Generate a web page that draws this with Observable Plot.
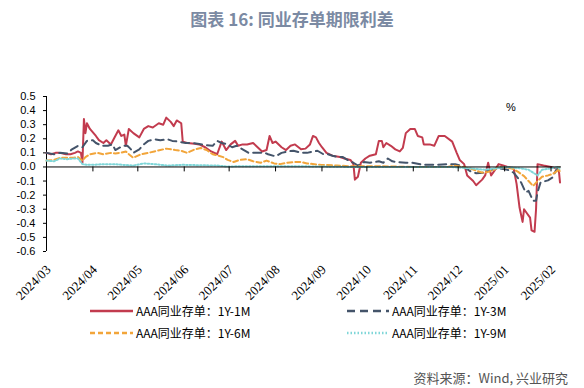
<!DOCTYPE html>
<html><head><meta charset="utf-8">
<script src="https://cdn.jsdelivr.net/npm/d3@7"></script>
<script src="https://cdn.jsdelivr.net/npm/@observablehq/plot@0.6"></script>
<style>
body{margin:0;background:#fff;}
#wrap{position:relative;width:584px;height:388px;overflow:hidden;background:#fff;}
#chart{position:absolute;left:0;top:0;}
#title{position:absolute;left:0;width:584px;top:6px;text-align:center;font-family:"Noto Sans CJK SC","Noto Sans",sans-serif;font-weight:bold;font-size:17px;color:#7b8aa3;}
#unit{position:absolute;left:506px;top:101px;font-family:"Liberation Sans",sans-serif;font-size:11px;color:#000;}
#source{position:absolute;right:16px;top:368px;font-family:"Noto Sans CJK SC",sans-serif;font-size:13px;color:#555;}
.lg{position:absolute;font-family:"Noto Sans CJK SC",sans-serif;font-size:12px;color:#000;line-height:14px;white-space:nowrap;display:flex;align-items:center;}
.lg svg{margin-right:3px;}
</style></head><body>
<div id="wrap">
  <div id="chart"></div>
  <div id="title">图表 16: 同业存单期限利差</div>
  <div id="unit">%</div>
  <div id="legend"></div>
  <div id="source">资料来源：Wind, 兴业研究</div>
</div>
<script>
const seriesNames = ["AAA同业存单：1Y-1M","AAA同业存单：1Y-3M","AAA同业存单：1Y-6M","AAA同业存单：1Y-9M"];
const seriesColors = ["#c23b4e","#44546a","#f2a53a","#7fd6d8"];
const monthLabelFormat = "%Y/%m";
const yTicks = [-0.6,-0.5,-0.4,-0.3,-0.2,-0.1,0.0,0.1,0.2,0.3,0.4,0.5];

const dates1M = ["2024-03-01","2024-03-04","2024-03-07","2024-03-10","2024-03-14","2024-03-17","2024-03-20","2024-03-22","2024-03-24","2024-03-25","2024-03-26","2024-03-27","2024-03-28","2024-03-30","2024-04-03","2024-04-05","2024-04-08","2024-04-10","2024-04-13","2024-04-15","2024-04-18","2024-04-20","2024-04-22","2024-04-23","2024-04-25","2024-04-28","2024-05-02","2024-05-05","2024-05-08","2024-05-11","2024-05-15","2024-05-18","2024-05-20","2024-05-23","2024-05-25","2024-05-27","2024-05-30","2024-05-31","2024-06-03","2024-06-08","2024-06-11","2024-06-15","2024-06-19","2024-06-23","2024-06-26","2024-06-29","2024-07-02","2024-07-05","2024-07-07","2024-07-10","2024-07-13","2024-07-17","2024-07-20","2024-07-23","2024-07-26","2024-07-28","2024-07-30","2024-08-01","2024-08-05","2024-08-08","2024-08-11","2024-08-14","2024-08-18","2024-08-21","2024-08-24","2024-08-26","2024-08-28","2024-08-30","2024-09-01","2024-09-04","2024-09-08","2024-09-13","2024-09-16","2024-09-20","2024-09-22","2024-09-23","2024-09-25","2024-09-27","2024-09-30","2024-10-03","2024-10-07","2024-10-09","2024-10-11","2024-10-12","2024-10-14","2024-10-17","2024-10-20","2024-10-23","2024-10-25","2024-10-27","2024-10-30","2024-11-02","2024-11-04","2024-11-07","2024-11-08","2024-11-12","2024-11-15","2024-11-18","2024-11-22","2024-11-27","2024-11-30","2024-12-02","2024-12-05","2024-12-07","2024-12-11","2024-12-13","2024-12-17","2024-12-19","2024-12-21","2024-12-23","2024-12-25","2024-12-28","2024-12-31","2025-01-03","2025-01-07","2025-01-09","2025-01-11","2025-01-13","2025-01-14","2025-01-16","2025-01-18","2025-01-19","2025-01-21","2025-01-22","2025-01-23","2025-01-27","2025-02-01","2025-02-04","2025-02-06","2025-02-07"];
const values1M = [0.10,0.09,0.10,0.10,0.09,0.09,0.10,0.11,0.10,0.03,0.34,0.24,0.31,0.27,0.22,0.19,0.17,0.19,0.16,0.20,0.26,0.22,0.23,0.15,0.27,0.24,0.21,0.27,0.29,0.28,0.31,0.30,0.35,0.32,0.29,0.33,0.31,0.18,0.17,0.165,0.16,0.14,0.11,0.09,0.18,0.12,0.16,0.185,0.15,0.16,0.16,0.17,0.14,0.11,0.12,0.22,0.17,0.18,0.14,0.12,0.15,0.16,0.125,0.13,0.16,0.22,0.21,0.17,0.14,0.10,0.08,0.07,0.06,0.05,0.02,-0.09,-0.07,0.03,0.06,0.08,0.09,0.185,0.185,0.14,0.17,0.15,0.125,0.11,0.135,0.24,0.27,0.27,0.22,0.21,0.16,0.16,0.15,0.22,0.22,0.18,0.10,0.05,0.02,-0.06,-0.10,-0.13,-0.09,-0.06,0.03,-0.06,-0.03,0.02,0.01,0.0,-0.01,-0.12,-0.29,-0.39,-0.30,-0.33,-0.36,-0.45,-0.46,-0.30,0.02,0.01,0.0,-0.01,0.0,-0.11];

const dates3M = ["2024-03-01","2024-03-06","2024-03-10","2024-03-15","2024-03-18","2024-03-22","2024-03-25","2024-03-28","2024-04-01","2024-04-03","2024-04-07","2024-04-11","2024-04-14","2024-04-16","2024-04-21","2024-04-24","2024-04-26","2024-04-28","2024-05-02","2024-05-05","2024-05-08","2024-05-12","2024-05-16","2024-05-21","2024-05-24","2024-05-28","2024-06-02","2024-06-06","2024-06-10","2024-06-15","2024-06-20","2024-06-23","2024-06-26","2024-06-30","2024-07-03","2024-07-06","2024-07-10","2024-07-14","2024-07-17","2024-07-22","2024-07-25","2024-07-27","2024-08-01","2024-08-05","2024-08-09","2024-08-13","2024-08-18","2024-08-22","2024-08-26","2024-08-29","2024-09-02","2024-09-05","2024-09-08","2024-09-12","2024-09-15","2024-09-18","2024-09-22","2024-09-25","2024-09-29","2024-10-03","2024-10-09","2024-10-12","2024-10-15","2024-10-18","2024-10-21","2024-10-27","2024-10-31","2024-11-08","2024-11-17","2024-11-24","2024-11-29","2024-12-04","2024-12-09","2024-12-13","2024-12-18","2024-12-23","2024-12-29","2025-01-03","2025-01-07","2025-01-10","2025-01-12","2025-01-15","2025-01-17","2025-01-20","2025-01-22","2025-01-23","2025-01-25","2025-01-30","2025-02-02","2025-02-04","2025-02-06","2025-02-07"];
const values3M = [0.10,0.09,0.10,0.095,0.125,0.15,0.14,0.185,0.19,0.17,0.15,0.15,0.16,0.12,0.15,0.15,0.13,0.10,0.125,0.16,0.185,0.196,0.19,0.196,0.185,0.18,0.17,0.17,0.165,0.155,0.15,0.185,0.17,0.16,0.14,0.15,0.125,0.10,0.10,0.10,0.10,0.09,0.075,0.10,0.11,0.115,0.10,0.10,0.11,0.115,0.09,0.09,0.08,0.07,0.07,0.05,0.03,0.01,0.035,0.03,0.04,0.03,0.06,0.04,0.035,0.03,0.03,0.015,0.015,0.02,0.02,0.005,-0.03,-0.045,-0.04,-0.02,-0.01,-0.02,-0.04,-0.08,-0.11,-0.18,-0.17,-0.24,-0.24,-0.18,-0.11,-0.095,-0.075,-0.03,0.0,-0.02];

const dates6M = ["2024-03-01","2024-03-06","2024-03-10","2024-03-15","2024-03-19","2024-03-22","2024-03-25","2024-03-27","2024-03-30","2024-04-04","2024-04-08","2024-04-13","2024-04-16","2024-04-19","2024-04-23","2024-04-25","2024-04-28","2024-05-03","2024-05-08","2024-05-12","2024-05-16","2024-05-20","2024-05-26","2024-05-30","2024-06-03","2024-06-07","2024-06-12","2024-06-16","2024-06-20","2024-06-24","2024-06-27","2024-06-30","2024-07-04","2024-07-08","2024-07-13","2024-07-17","2024-07-22","2024-07-26","2024-07-31","2024-08-04","2024-08-09","2024-08-13","2024-08-18","2024-08-22","2024-08-31","2024-09-11","2024-09-20","2024-09-29","2024-10-10","2024-11-01","2024-11-24","2024-11-28","2024-12-04","2024-12-09","2024-12-14","2024-12-17","2024-12-21","2024-12-25","2024-12-28","2025-01-03","2025-01-07","2025-01-10","2025-01-14","2025-01-17","2025-01-20","2025-01-23","2025-01-26","2025-01-30","2025-02-02","2025-02-05","2025-02-06","2025-02-07"];
const values6M = [0.045,0.05,0.065,0.065,0.065,0.07,0.045,0.07,0.09,0.10,0.09,0.10,0.095,0.10,0.11,0.09,0.065,0.09,0.10,0.11,0.12,0.13,0.12,0.115,0.10,0.12,0.135,0.12,0.09,0.08,0.07,0.05,0.035,0.05,0.055,0.04,0.03,0.045,0.025,0.02,0.03,0.035,0.035,0.025,0.015,0.01,0.005,0.005,0.005,0.0,0.0,0.01,0.0,-0.01,-0.03,-0.04,-0.035,-0.02,0.0,-0.005,-0.015,-0.035,-0.065,-0.10,-0.135,-0.10,-0.07,-0.06,-0.05,-0.03,0.0,-0.04];

const dates9M = ["2024-03-01","2024-03-06","2024-03-10","2024-03-15","2024-03-19","2024-03-22","2024-03-25","2024-03-28","2024-04-01","2024-04-08","2024-04-15","2024-04-21","2024-04-28","2024-05-05","2024-05-12","2024-05-21","2024-05-31","2024-06-12","2024-06-23","2024-06-30","2024-07-08","2024-07-26","2024-08-18","2024-09-20","2024-10-23","2024-11-26","2024-12-09","2024-12-19","2024-12-26","2025-01-02","2025-01-07","2025-01-12","2025-01-17","2025-01-20","2025-01-23","2025-01-26","2025-02-01","2025-02-06","2025-02-07"];
const values9M = [0.045,0.04,0.06,0.055,0.06,0.06,0.02,0.015,0.015,0.02,0.02,0.015,0.01,0.025,0.02,0.01,0.015,0.012,0.01,0.003,0.005,0.005,0.005,0.0,0.0,0.0,-0.01,-0.02,-0.01,0.0,-0.005,-0.01,-0.02,-0.04,-0.06,-0.02,-0.01,0.0,-0.02];

const parse = d3.utcParse("%Y-%m-%d");
const toRows = (dates, values) => dates.map((d, i) => ({date: parse(d), value: values[i]}));
const data1M = toRows(dates1M, values1M);
const data3M = toRows(dates3M, values3M);
const data6M = toRows(dates6M, values6M);
const data9M = toRows(dates9M, values9M);

const xStart = parse("2024-03-01");
const xEnd = parse("2025-02-08");
const monthTicks = d3.utcMonth.range(xStart, parse("2025-02-02"));
const fmt = d3.utcFormat(monthLabelFormat);

const chart = Plot.plot({
  width: 584, height: 388,
  marginLeft: 46, marginRight: 23, marginTop: 96, marginBottom: 137,
  x: {type: "utc", domain: [xStart, xEnd], axis: null},
  y: {domain: [-0.6, 0.5], axis: null},
  style: {background: "transparent", overflow: "visible", fontFamily: "Liberation Sans, Arial, sans-serif", fontSize: "11px", color: "#000"},
  marks: [
    Plot.axisY({ticks: yTicks, tickFormat: d => d.toFixed(1), tickSize: 3, tickPadding: 8, label: null, fontSize: 11, stroke: "#000"}),
    Plot.ruleX([xStart], {y1: -0.6, y2: 0.5, stroke: "#000", strokeWidth: 1}),
    Plot.line(data1M, {x: "date", y: "value", stroke: seriesColors[0], strokeWidth: 2}),
    Plot.line(data3M, {x: "date", y: "value", stroke: seriesColors[1], strokeWidth: 2, strokeDasharray: "8,5"}),
    Plot.line(data6M, {x: "date", y: "value", stroke: seriesColors[2], strokeWidth: 2, strokeDasharray: "5,3"}),
    Plot.line(data9M, {x: "date", y: "value", stroke: seriesColors[3], strokeWidth: 2, strokeDasharray: "1.5,2"}),
    Plot.ruleY([0], {stroke: "#000", strokeWidth: 1}),
    Plot.ruleX(monthTicks, {x: d => d, y1: 0, y2: -0.035, stroke: "#000", strokeWidth: 1}),
    Plot.text(monthTicks, {x: d => d, y: -0.6, text: d => fmt(d), rotate: -45, textAnchor: "end", lineAnchor: "bottom", dx: 5, dy: 19, fontFamily: "Liberation Serif, Times New Roman, serif", fontSize: 13, fill: "#000"})
  ]
});
document.getElementById("chart").appendChild(chart);

// legend
const legendPos = [
  {left: 90, top: 304, len: 43},
  {left: 347, top: 304, len: 42},
  {left: 90, top: 326, len: 43},
  {left: 347, top: 326, len: 42}
];
const dashes = ["", "8,5", "5,3", "1.5,2"];
const lg = document.getElementById("legend");
seriesNames.forEach((name, i) => {
  const p = legendPos[i];
  const div = document.createElement("div");
  div.className = "lg";
  div.style.left = p.left + "px";
  div.style.top = p.top + "px";
  div.innerHTML = `<svg width="${p.len}" height="6"><line x1="0" y1="3" x2="${p.len}" y2="3" stroke="${seriesColors[i]}" stroke-width="2.5" ${dashes[i] ? `stroke-dasharray="${dashes[i]}"` : ""}/></svg><span>${name}</span>`;
  lg.appendChild(div);
});
</script>
</body></html>
